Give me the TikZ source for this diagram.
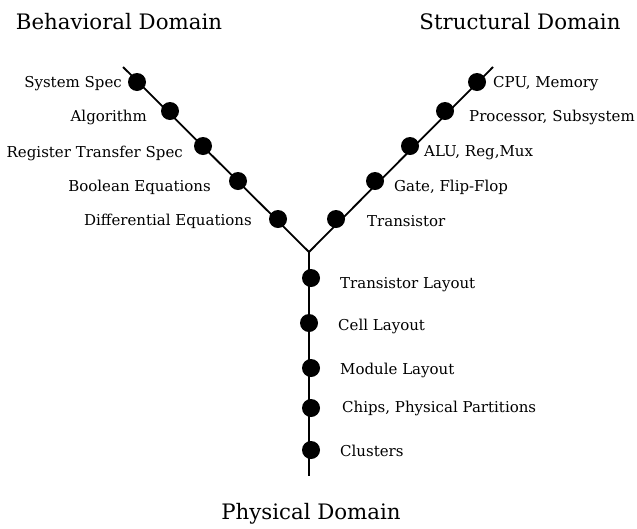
\documentclass[tikz,border=0pt]{standalone}
\usepackage{fontspec}
\setmainfont{DejaVu Serif}
\begin{document}
\begin{tikzpicture}[x=1pt,y=-1pt,
  dot/.style={circle,fill=black,inner sep=0pt,minimum size=18pt},
  lbl/.style={inner sep=0pt,font=\fontsize{15}{17}\selectfont},
  ttl/.style={inner sep=0pt,font=\fontsize{21.3}{25}\selectfont},
  axis/.style={line width=1.8pt}]
\useasboundingbox (0,0) rectangle (637,528);
% axes
\coordinate (j) at (309,252);
\coordinate (lt) at (123,67);
\coordinate (rt) at (493,67);
\coordinate (bt) at (309,476);
\draw[axis] (lt) -- (j) -- (rt);
\draw[axis] (j) -- (bt);
% titles
\node[ttl] (tb) at (119,22) {Behavioral Domain};
\node[ttl] (ts) at (520,22) {Structural Domain};
\node[ttl] (tp) at (311,514) {Physical Domain};
% behavioral
\node[dot] (b1) at (137,82) {};
\node[dot] (b2) at (170,111) {};
\node[dot] (b3) at (203,146) {};
\node[dot] (b4) at (238,181) {};
\node[dot] (b5) at (278,219) {};
\node[lbl,anchor=east] (lb1) at (122,84) {System Spec};
\node[lbl,anchor=east] (lb2) at (147,117) {Algorithm};
\node[lbl,anchor=east] (lb3) at (183,153) {Register Transfer Spec};
\node[lbl,anchor=east] (lb4) at (211,187) {Boolean Equations};
\node[lbl,anchor=east] (lb5) at (252,221) {Differential Equations};
% structural
\node[dot] (s1) at (477,82) {};
\node[dot] (s2) at (445,111) {};
\node[dot] (s3) at (410,146) {};
\node[dot] (s4) at (375,181) {};
\node[dot] (s5) at (336,219) {};
\node[lbl,anchor=west] (ls1) at (493,84) {CPU, Memory};
\node[lbl,anchor=west] (ls2) at (469,117) {Processor, Subsystem};
\node[lbl,anchor=west] (ls3) at (424,153) {ALU, Reg,Mux};
\node[lbl,anchor=west] (ls4) at (394,187) {Gate, Flip-Flop};
\node[lbl,anchor=west] (ls5) at (367,221) {Transistor};
% physical
\node[dot] (p1) at (311,278) {};
\node[dot] (p2) at (309,323) {};
\node[dot] (p3) at (311,368) {};
\node[dot] (p4) at (311,408) {};
\node[dot] (p5) at (311,450) {};
\node[lbl,anchor=west] (lp1) at (340,285) {Transistor Layout};
\node[lbl,anchor=west] (lp2) at (338,326) {Cell Layout};
\node[lbl,anchor=west] (lp3) at (340,370) {Module Layout};
\node[lbl,anchor=west] (lp4) at (342,408) {Chips, Physical Partitions};
\node[lbl,anchor=west] (lp5) at (340,451) {Clusters};
\end{tikzpicture}
\end{document}
